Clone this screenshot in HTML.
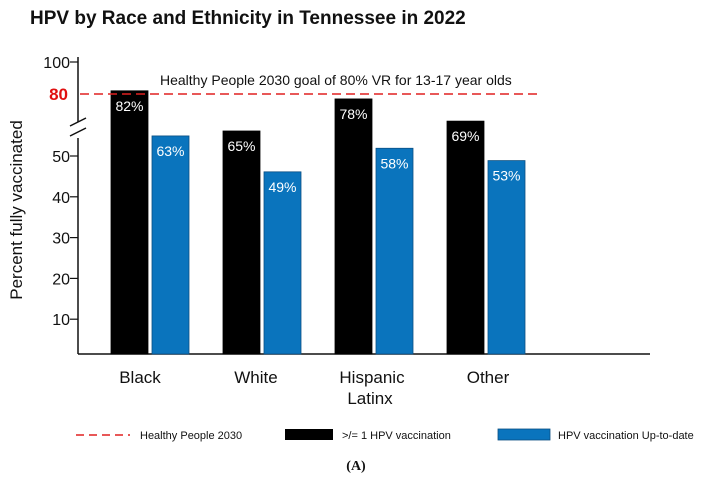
<!DOCTYPE html>
<html><head><meta charset="utf-8"><style>
body{margin:0;background:#fff;}
svg{display:block;font-family:"Liberation Sans",Arial,sans-serif;}
</style></head><body>
<svg id="chart" width="713" height="478" viewBox="0 0 713 478">
<text x="30" y="24" font-size="19" font-weight="bold" fill="#111">HPV by Race and Ethnicity in Tennessee in 2022</text>
<text transform="translate(22,210) rotate(-90)" text-anchor="middle" font-size="17" fill="#111">Percent fully vaccinated</text>
<g id="axes"></g>
<g id="bars"></g>
<text x="370" y="404" text-anchor="middle" font-size="17" fill="#111">Latinx</text>
<g>
<line x1="76" y1="435" x2="130" y2="435" stroke="#e02020" stroke-width="1.5" stroke-dasharray="8,5"/>
<text x="140" y="439" font-size="11" fill="#111">Healthy People 2030</text>
<rect x="285" y="429" width="48" height="11" fill="#000"/>
<text x="342" y="439" font-size="11" fill="#111">&gt;/= 1 HPV vaccination</text>
<rect x="498" y="429" width="52" height="11" fill="#0a74bd" stroke="#0a4f82" stroke-width="0.8"/>
<text x="558" y="439" font-size="11" fill="#111">HPV vaccination Up-to-date</text>
</g>
<text x="356" y="470" text-anchor="middle" font-size="14" font-weight="bold" font-family="Liberation Serif,serif" fill="#111">(A)</text>
</svg>
<script>
const categories=["Black","White","Hispanic","Other"];
const atLeastOne=[82,65,78,69];
const upToDate=[63,49,58,53];
const lowerTicks=[10,20,30,40,50];
const upperTicks=[100];
const goal=80;
const NS="http://www.w3.org/2000/svg";
function pw(dom,rng,v){for(let i=0;i<dom.length-1;i++){if(v<=dom[i+1]||i===dom.length-2){const t=(v-dom[i])/(dom[i+1]-dom[i]);return rng[i]+t*(rng[i+1]-rng[i]);}}}
// axis scale (ticks / goal line)
function y(v){return pw([0,50,80,100],[360,156,94,62],v);}
// bar scale (schematic bar heights in the original)
function yb(v){return pw([0,50,80,100],[360,168,94,62],v);}
const base=354;
function xc(i){return 150+i*112;}
function mk(tag,attrs,parent){const e=document.createElementNS(NS,tag);for(const k in attrs)e.setAttribute(k,attrs[k]);parent.appendChild(e);return e;}
const ax=document.getElementById('axes'), bg=document.getElementById('bars');
let l=mk('line',{x1:78,y1:57,x2:78,y2:122,stroke:'#111','stroke-width':1.5},ax);


l=mk('line',{x1:78,y1:138,x2:78,y2:base,stroke:'#111','stroke-width':1.5},ax);


[[70,126,86,118],[70,136,86,128]].forEach(c=>{const b=mk('line',{x1:c[0],y1:c[1],x2:c[2],y2:c[3],stroke:'#111','stroke-width':1.5},ax);

});
l=mk('line',{x1:78,y1:base,x2:650,y2:base,stroke:'#111','stroke-width':1.5},ax);


lowerTicks.concat(upperTicks).forEach(v=>{const t=mk('line',{x1:70,y1:y(v),x2:78,y2:y(v),stroke:'#111','stroke-width':1.2},ax);


const tx=mk('text',{x:70,y:y(v)+6,'text-anchor':'end','font-size':16,fill:'#111'},ax);tx.textContent=v;

});
const gl=mk('text',{x:68,y:y(goal)+6,'text-anchor':'end','font-size':17,'font-weight':'bold',fill:'#e01010'},ax);gl.textContent=goal;


categories.forEach((c,i)=>{
 const cx=xc(i);
 [[atLeastOne[i],cx-39,'#000','#000'],[upToDate[i],cx+2,'#0a74bd','#0a4f82']].forEach((d,j)=>{
  const r=mk('rect',{x:d[1],y:yb(d[0]),width:37,height:base-yb(d[0]),fill:d[2],stroke:d[3],'stroke-width':0.8},bg);
  
  
  const t=mk('text',{x:d[1]+18.5,y:yb(d[0])+20,'text-anchor':'middle','font-size':14,fill:'#fff'},bg);t.textContent=d[0]+'%';
  
  
 });
 const lb=mk('text',{x:cx-10+i*4,y:383,'text-anchor':'middle','font-size':17,fill:'#111'},bg);lb.textContent=c;
 
 
});
const gline=mk('line',{x1:80,y1:y(goal),x2:540,y2:y(goal),stroke:'#e02020','stroke-width':1.5,'stroke-dasharray':'9,5'},bg);


const gt=mk('text',{x:160,y:y(goal)-9,'font-size':14,fill:'#111'},bg);gt.textContent='Healthy People 2030 goal of 80% VR for 13-17 year olds';


</script>
</body></html>
